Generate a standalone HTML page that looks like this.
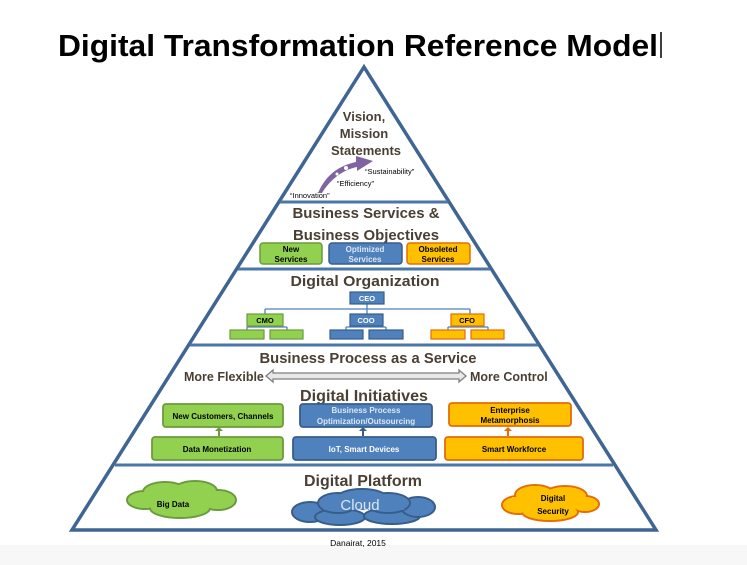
<!DOCTYPE html>
<html><head><meta charset="utf-8"><style>
html,body{margin:0;padding:0;background:#fff}
svg{display:block}
text{font-family:"Liberation Sans",sans-serif}
</style></head><body>
<svg width="747" height="565" viewBox="0 0 747 565" xmlns="http://www.w3.org/2000/svg">
<rect x="0" y="545" width="747" height="20" fill="#f7f7f7"/>
<text x="58" y="56" font-size="31" font-weight="bold" fill="#000" textLength="600" lengthAdjust="spacingAndGlyphs">Digital Transformation Reference Model</text>
<line x1="661" y1="32" x2="661" y2="58" stroke="#000" stroke-width="1.5"/>
<polygon points="364,67 72,530 656,530" fill="#fff" stroke="#3f6594" stroke-width="3.5" stroke-linejoin="miter"/>
<g stroke="#4a76a8" stroke-width="3">
<line x1="280" y1="202" x2="448" y2="202"/>
<line x1="238" y1="269" x2="490" y2="269"/>
<line x1="190" y1="345" x2="538" y2="345"/>
<line x1="115" y1="465" x2="613" y2="465"/>
</g>
<g font-weight="bold" fill="#4a3f33" text-anchor="middle">
<text x="364" y="121" font-size="13">Vision,</text>
<text x="364" y="138" font-size="13">Mission</text>
<text x="366" y="155" font-size="13">Statements</text>
<text x="366" y="218" font-size="15" textLength="147" lengthAdjust="spacingAndGlyphs">Business Services &amp;</text>
<text x="366" y="240" font-size="15" textLength="146" lengthAdjust="spacingAndGlyphs">Business Objectives</text>
<text x="365" y="286" font-size="15" textLength="149" lengthAdjust="spacingAndGlyphs">Digital Organization</text>
<text x="368" y="363" font-size="14.5" textLength="217" lengthAdjust="spacingAndGlyphs">Business Process as a Service</text>
<text x="364" y="401" font-size="15.5" textLength="128" lengthAdjust="spacingAndGlyphs">Digital Initiatives</text>
<text x="363" y="486" font-size="15.5" textLength="118" lengthAdjust="spacingAndGlyphs">Digital Platform</text>
</g>
<path d="M318,193 C326,175 338,166 356,162 L356,156 L373,161 L357,171 L357,167 C342,170 330,180 322,193 Z" fill="#8064a2"/>
<circle cx="346" cy="168" r="2" fill="#fff"/><circle cx="337" cy="174" r="1.5" fill="#fff"/>
<g font-size="7.5" fill="#000">
<text x="290" y="198">“Innovation”</text>
<text x="337" y="186">“Efficiency”</text>
<text x="365" y="174">“Sustainability”</text>
</g>
<rect x="260" y="243" width="62" height="21" rx="3" fill="#92d050" stroke="#6b9a3c" stroke-width="1.5"/>
<rect x="329" y="243" width="73" height="21" rx="3" fill="#4f81bd" stroke="#385d8a" stroke-width="1.5"/>
<rect x="407" y="243" width="63" height="21" rx="3" fill="#ffc000" stroke="#e46c0a" stroke-width="1.5"/>
<g font-size="8" font-weight="bold" text-anchor="middle">
<text x="291" y="252">New</text><text x="291" y="262">Services</text>
<text x="365" y="252" fill="#dce6f2">Optimized</text><text x="365" y="262" fill="#dce6f2">Services</text>
<text x="438" y="252">Obsoleted</text><text x="438" y="262">Services</text>
</g>
<g stroke="#4f81bd" stroke-width="1.3" fill="none">
<line x1="367" y1="304" x2="367" y2="309"/>
<line x1="265" y1="309" x2="470" y2="309"/>
<line x1="265" y1="309" x2="265" y2="314"/><line x1="367" y1="309" x2="367" y2="314"/><line x1="470" y1="309" x2="470" y2="314"/>
<line x1="247" y1="330" x2="247" y2="327"/><line x1="247" y1="327" x2="287" y2="327"/><line x1="287" y1="327" x2="287" y2="330"/>
<line x1="346" y1="330" x2="346" y2="327"/><line x1="346" y1="327" x2="386" y2="327"/><line x1="386" y1="327" x2="386" y2="330"/>
<line x1="448" y1="330" x2="448" y2="327"/><line x1="448" y1="327" x2="488" y2="327"/><line x1="488" y1="327" x2="488" y2="330"/>
</g>
<rect x="350" y="292" width="34" height="12" fill="#4f81bd" stroke="#385d8a" stroke-width="1.2"/>
<rect x="247" y="314" width="36" height="12" fill="#92d050" stroke="#6b9a3c" stroke-width="1.2"/>
<rect x="350" y="314" width="33" height="12" fill="#4f81bd" stroke="#385d8a" stroke-width="1.2"/>
<rect x="451" y="314" width="33" height="12" fill="#ffc000" stroke="#e46c0a" stroke-width="1.2"/>
<g stroke-width="1.2">
<rect x="230" y="330" width="34" height="9" fill="#92d050" stroke="#6b9a3c"/>
<rect x="270" y="330" width="33" height="9" fill="#92d050" stroke="#6b9a3c"/>
<rect x="330" y="330" width="33" height="9" fill="#4f81bd" stroke="#385d8a"/>
<rect x="369" y="330" width="34" height="9" fill="#4f81bd" stroke="#385d8a"/>
<rect x="431" y="330" width="34" height="9" fill="#ffc000" stroke="#e46c0a"/>
<rect x="471" y="330" width="33" height="9" fill="#ffc000" stroke="#e46c0a"/>
</g>
<g font-size="7.5" font-weight="bold" text-anchor="middle">
<text x="367" y="301" fill="#fff">CEO</text>
<text x="265" y="323">CMO</text>
<text x="366" y="323" fill="#fff">COO</text>
<text x="467" y="323">CFO</text>
</g>
<g font-size="12.5" font-weight="bold" fill="#4a3f33">
<text x="184" y="381">More Flexible</text>
<text x="470" y="381">More Control</text>
</g>
<path d="M266,376 L273,370 L273,373 L459,373 L459,370 L466,376 L459,382 L459,379 L273,379 L273,382 Z" fill="#e8e8e8" stroke="#7f7f7f" stroke-width="1.3"/>
<rect x="163" y="404" width="120" height="23" rx="3" fill="#92d050" stroke="#6b9a3c" stroke-width="1.8"/>
<rect x="152" y="437" width="131" height="23" rx="3" fill="#92d050" stroke="#6b9a3c" stroke-width="1.8"/>
<rect x="300" y="404" width="132" height="23" rx="3" fill="#4f81bd" stroke="#385d8a" stroke-width="1.8"/>
<rect x="293" y="437" width="143" height="23" rx="3" fill="#4f81bd" stroke="#385d8a" stroke-width="1.8"/>
<rect x="449" y="403" width="122" height="23" rx="3" fill="#ffc000" stroke="#e46c0a" stroke-width="1.8"/>
<rect x="445" y="437" width="138" height="23" rx="3" fill="#ffc000" stroke="#e46c0a" stroke-width="1.8"/>
<g>
<path d="M218,436 v-5 h-3 l4,-4 4,4 h-3 v5z" fill="#6b9a3c"/>
<path d="M362,436 v-5 h-3 l4,-4 4,4 h-3 v5z" fill="#385d8a"/>
<path d="M507,436 v-5 h-3 l4,-4 4,4 h-3 v5z" fill="#e46c0a"/>
</g>
<g font-size="8" font-weight="bold" text-anchor="middle">
<text x="223" y="419">New  Customers, Channels</text>
<text x="217" y="452">Data Monetization</text>
<text x="366" y="413" fill="#dce6f2">Business Process</text>
<text x="366" y="424" fill="#dce6f2">Optimization/Outsourcing</text>
<text x="364" y="452" fill="#fff">IoT, Smart Devices</text>
<text x="510" y="413">Enterprise</text>
<text x="510" y="423">Metamorphosis</text>
<text x="514" y="452">Smart Workforce</text>
</g>
<g stroke="#6b9a3c" stroke-width="2" fill="#92d050">
<ellipse cx="145" cy="500" rx="18" ry="9"/><ellipse cx="165" cy="492" rx="22" ry="10"/><ellipse cx="195" cy="491" rx="22" ry="10"/><ellipse cx="218" cy="500" rx="18" ry="10"/><ellipse cx="180" cy="508" rx="30" ry="10"/>
</g>
<g fill="#92d050"><ellipse cx="145" cy="500" rx="17" ry="8"/><ellipse cx="165" cy="492" rx="21" ry="9"/><ellipse cx="195" cy="491" rx="21" ry="9"/><ellipse cx="218" cy="500" rx="17" ry="9"/><ellipse cx="180" cy="508" rx="29" ry="9"/><rect x="140" y="493" width="80" height="14"/></g>
<g stroke="#385d8a" stroke-width="2" fill="#4f81bd">
<ellipse cx="310" cy="512" rx="18" ry="10"/><ellipse cx="340" cy="517" rx="25" ry="8"/><ellipse cx="392" cy="516" rx="28" ry="8"/><ellipse cx="418" cy="507" rx="17" ry="10"/>
</g>
<g stroke="#385d8a" stroke-width="2" fill="#4f81bd">
<ellipse cx="338" cy="503" rx="20" ry="10"/><ellipse cx="362" cy="499" rx="26" ry="10"/><ellipse cx="388" cy="503" rx="22" ry="10"/>
</g>
<g fill="#4f81bd"><ellipse cx="338" cy="503" rx="19" ry="9"/><ellipse cx="362" cy="499" rx="25" ry="9"/><ellipse cx="388" cy="503" rx="21" ry="9"/><rect x="324" y="500" width="80" height="10"/></g>
<g stroke="#e46c0a" stroke-width="2" fill="#ffc000">
<ellipse cx="518" cy="505" rx="16" ry="9"/><ellipse cx="535" cy="495" rx="20" ry="10"/><ellipse cx="565" cy="496" rx="22" ry="10"/><ellipse cx="585" cy="504" rx="14" ry="8"/><ellipse cx="550" cy="512" rx="28" ry="9"/>
</g>
<g fill="#ffc000"><ellipse cx="518" cy="505" rx="15" ry="8"/><ellipse cx="535" cy="495" rx="19" ry="9"/><ellipse cx="565" cy="496" rx="21" ry="9"/><ellipse cx="585" cy="504" rx="13" ry="7"/><ellipse cx="550" cy="512" rx="27" ry="8"/><rect x="512" y="497" width="76" height="12"/></g>
<g font-size="8" font-weight="bold" text-anchor="middle">
<text x="173" y="507">Big Data</text>
<text x="553" y="501">Digital</text>
<text x="553" y="514">Security</text>
</g>
<text x="360" y="510" font-size="15" fill="#dce6f2" text-anchor="middle">Cloud</text>
<text x="358" y="546" font-size="8.5" text-anchor="middle" fill="#000">Danairat, 2015</text>
</svg>
</body></html>
